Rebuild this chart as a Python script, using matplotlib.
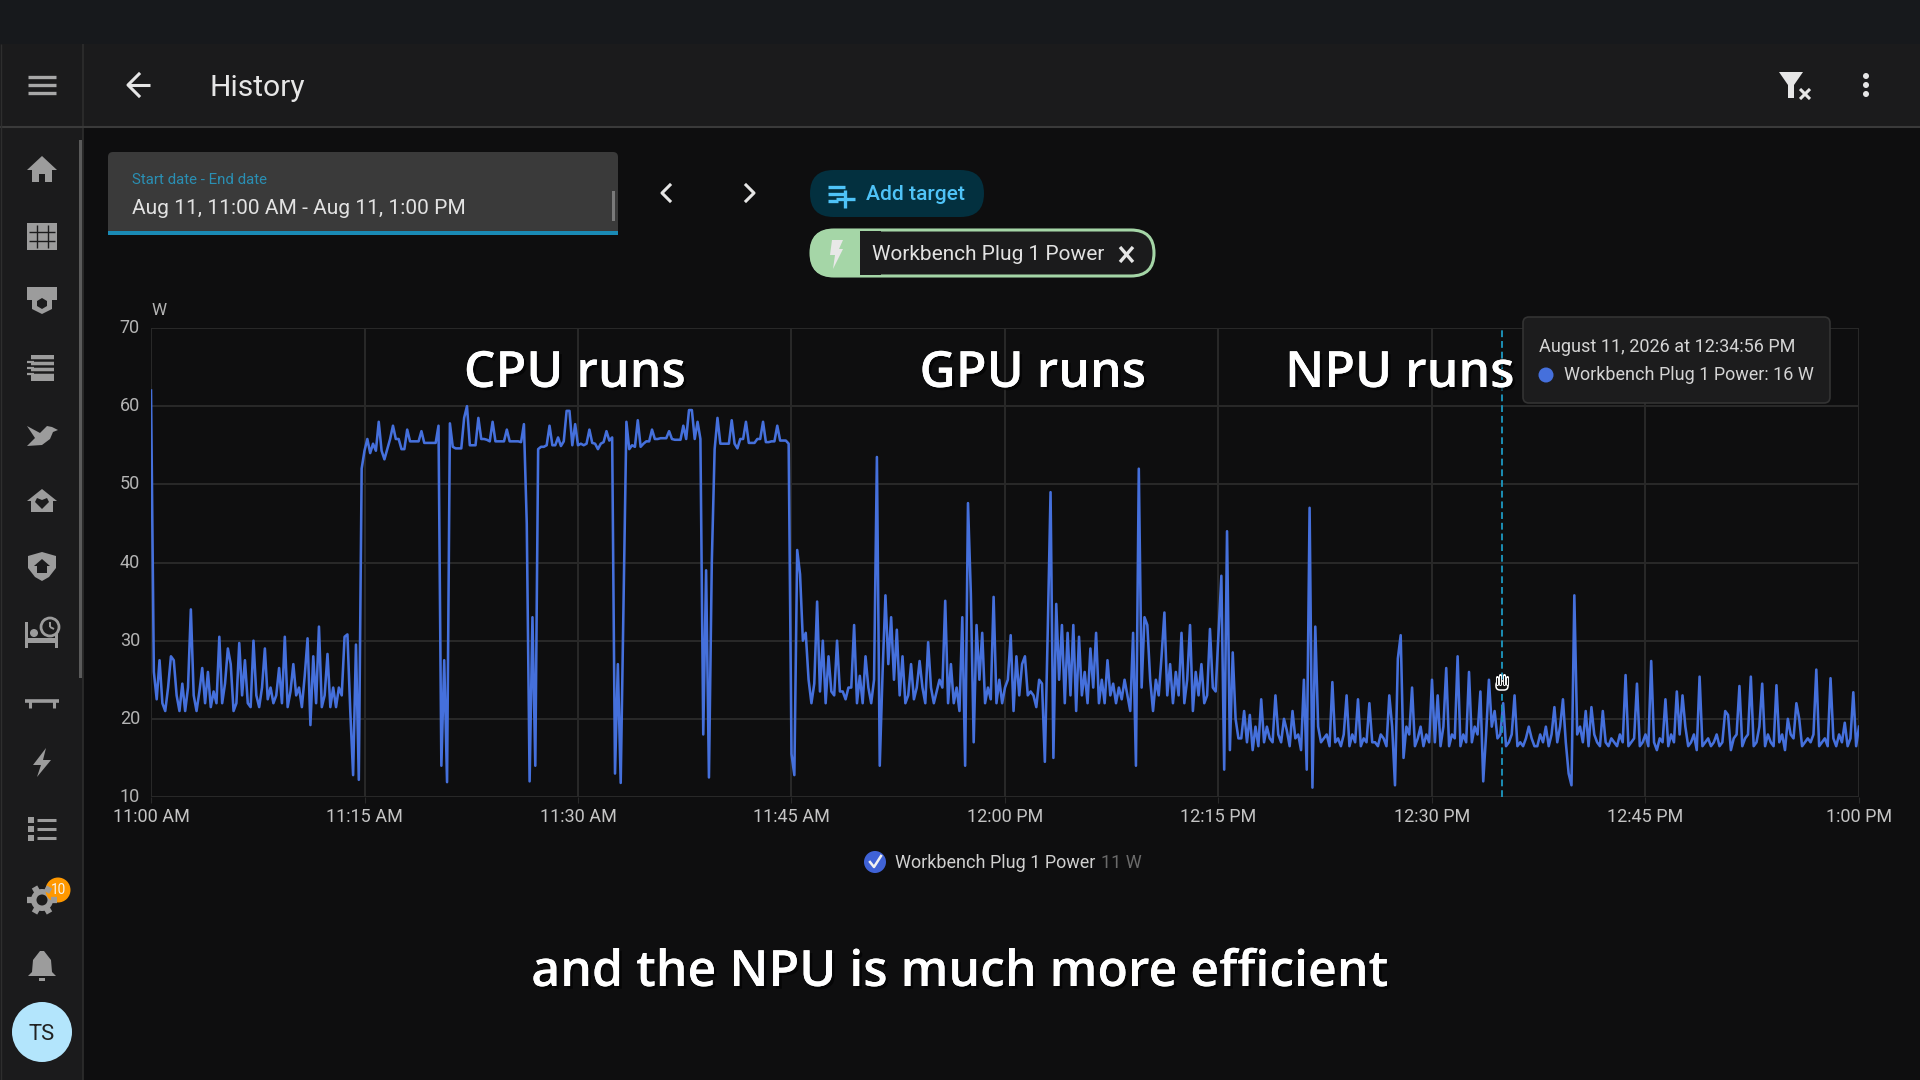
import numpy as np
import matplotlib
matplotlib.use("Agg")
import matplotlib.pyplot as plt
import matplotlib.patheffects as pe
from matplotlib.patches import Rectangle, Circle, Polygon, FancyBboxPatch

plt.rcParams["font.family"] = ["Roboto", "DejaVu Sans"]

# watts, one row = one minute, a reading every 12 seconds
power_idle = [
    62, 26, 22.5, 27.5, 22,
    21, 24, 28, 27.5, 23,
    21, 24.5, 21, 24, 34,
    23, 21, 23.5, 26.5, 22,
    26, 21.5, 23.5, 22, 30.5,
    22, 24.5, 29, 27, 21,
    22, 29.7, 23, 27.5, 22,
    21.5, 30, 23, 21.5, 24,
    29, 22.5, 24, 22, 23,
    26.5, 22, 30.5, 21.5, 23.5,
    27, 23, 24, 21.5, 25.5,
    30.3, 19.2, 28, 22, 31.8,
    21.5, 23, 28.3, 21.5, 24,
    21.5, 24, 23, 30.5, 30.8,
    21, 12.8, 29.5, 12.2, 52,
]
power_cpu = [
    54.3, 55.8, 54, 55.2, 54.3,
    58, 54.3, 53.2, 54.5, 55.8,
    57.5, 55.8, 55.8, 54.5, 54.5,
    57, 55.5, 55.5, 55.5, 55.5,
    56.8, 55.3, 55.3, 55.3, 55.3,
    55.3, 57.5, 14, 27.5, 11.9,
    57.8, 54.8, 54.6, 54.6, 54.6,
    58.5, 60, 55, 55, 55,
    58.5, 55.8, 55.8, 55.7, 55.5,
    58, 55.5, 55.5, 55.5, 55.5,
    57, 55.5, 55.5, 55.5, 55.5,
    55.4, 57.7, 45, 12, 33,
    14, 54.5, 54.8, 54.8, 55,
    57.5, 55, 55, 56, 54.9,
    55.5, 59.4, 59.4, 55, 57.7,
    55, 55.2, 55, 55.2, 57,
    55.3, 55.2, 54.5, 55.2, 55.4,
    56.8, 55.6, 56, 13, 27,
    11.8, 35, 58, 54.5, 55,
    54.8, 58.2, 54.8, 55.2, 55.5,
    55.5, 57, 55.8, 55.8, 55.9,
    55.9, 55.9, 56.8, 55.8, 55.7,
    55.7, 55.7, 57.5, 55.8, 59.5,
    59.5, 55.8, 58, 55.8, 18,
    39, 12.5, 40, 54.5, 58.5,
    55.2, 55.2, 55.2, 55.2, 58.2,
    55.2, 54.6, 55.8, 55.8, 58,
    55.3, 55.3, 55.3, 55.8, 55.8,
    58, 55.4, 55.4, 55.5, 55.5,
    57.5, 55.6, 55.6, 55.6, 55.2,
]
power_gpu = [
    15.5, 12.8, 41.6, 38.5, 30,
    31, 25, 22, 24.5, 35,
    23.5, 30, 22, 28, 23.5,
    23, 30, 23.5, 23.5, 22.5,
    24, 24, 32, 22, 25.5,
    22, 28, 24, 22, 25,
    53.5, 14, 26, 35.8, 27,
    33, 25, 31.4, 23, 28,
    22, 23, 27, 22.5, 24,
    27.4, 24, 22, 29.8, 24,
    22, 23.5, 25, 24, 35.1,
    22, 27, 22, 24, 21,
    33, 14, 47.6, 36, 17,
    32, 25, 31, 22, 24,
    22.5, 35.6, 22, 25, 22,
    24, 25, 30.7, 21, 28,
    23, 27, 28, 23, 23.5,
    23, 21.5, 25, 24.5, 14.5,
    31, 49, 15, 34.7, 25,
    32, 22, 31, 23, 32,
    21, 30.5, 23, 26, 22,
    29, 24, 31, 22, 25,
    22, 27.5, 23, 24.5, 22,
    24, 22.5, 25, 23, 21,
    31, 14, 52, 24, 33,
    32, 25, 21, 25, 23,
    28, 33.6, 23, 27, 22,
    26, 23, 31, 22, 25,
    32, 21, 26, 23, 27,
    22, 23, 31.5, 24, 23.5,
    31, 38.3, 13.5, 44, 16,
]
power_npu = [
    28.5, 20, 17.5, 17.5, 21,
    17, 20.5, 16, 19, 16.5,
    22.5, 17, 19, 17.5, 17,
    23, 18, 17, 20, 18.5,
    16.5, 21, 17.5, 18, 16,
    25, 13.5, 47, 11.2, 31.8,
    19, 17, 17.5, 18, 16.5,
    24.7, 17, 17.5, 16.5, 18,
    23, 16.5, 18, 17, 22.5,
    16.5, 17.5, 17, 22, 17,
    17, 16.5, 18, 17.5, 16.5,
    23, 19, 11.5, 27.7, 30.7,
    15, 19, 18, 24, 16.5,
    17.5, 19, 16.5, 18, 17,
    25, 17, 23, 16.5, 19,
    26.5, 16.5, 18, 17.5, 28,
    16.5, 18, 17, 26, 17,
    19, 18, 23.5, 12, 18,
    25, 19, 21, 17.5, 18,
    22, 16.5, 17, 18, 23,
    16.5, 17, 16.5, 17.5, 19,
    17.5, 16.5, 16.5, 18, 17,
    19, 16.5, 18, 21.5, 17,
    19, 22.5, 17, 13, 11.5,
    35.8, 18, 19, 17, 21,
    16.5, 21.5, 18, 17, 16.5,
    21, 17, 16.5, 17.5, 17,
    16.5, 18, 17, 25.6, 16.5,
    17, 17.5, 24.5, 16.5, 17,
    18, 16.5, 27.4, 17, 16,
    17.5, 17, 22.5, 16.5, 18,
    17, 23.5, 18, 23, 19,
    16.5, 17, 18, 16, 25.4,
    16.5, 17, 17.5, 16.5, 17,
    18, 16.5, 17, 21, 20.5,
    16, 17.5, 18, 24.2, 16.5,
    17.5, 18, 25.4, 16.5, 17,
    19, 24.5, 16.5, 18, 17,
    16.5, 24.3, 17, 18, 16,
    20, 18, 17.5, 22, 20,
    16.5, 17, 17.5, 17, 18,
    26.3, 16.5, 17, 17.5, 16.5,
    25.2, 17.5, 16.5, 18, 17,
    19.5, 16.5, 17.5, 23.4, 16.5,
    19,
]
x_ticks = [0, 15, 30, 45, 60, 75, 90, 105, 120]
x_labels = ["11:00 AM", "11:15 AM", "11:30 AM", "11:45 AM", "12:00 PM",
            "12:15 PM", "12:30 PM", "12:45 PM", "1:00 PM"]
y_ticks = [10, 20, 30, 40, 50, 60, 70]
cursor_minute = 94.93

watts = np.concatenate([power_idle, power_cpu, power_gpu, power_npu])
minutes = np.arange(len(watts)) * 0.2

BG = "#0e0e0f"
BAR = "#1b1b1c"
ICON = "#9c9c9c"
BLUE = "#4570dc"
W, H = 1920, 1080

fig = plt.figure(figsize=(19.2, 10.8), dpi=100, facecolor=BG)


def px_axes(z):
    a = fig.add_axes([0, 0, 1, 1], zorder=z)
    a.set_xlim(0, W)
    a.set_ylim(H, 0)
    a.axis("off")
    return a


ui = px_axes(0)
top = px_axes(3)


def rect(a, x0, y0, x1, y1, c, **kw):
    a.add_patch(Rectangle((x0, y0), x1 - x0, y1 - y0, fc=c, ec="none", **kw))


def poly(cx, cy, pts, c=ICON):
    ui.add_patch(Polygon([(cx + p[0], cy + p[1]) for p in pts], closed=True, fc=c, ec="none"))


def seg(x0, y0, x1, y1, c=ICON, lw=2.2, a=None):
    (a or ui).plot([x0, x1], [y0, y1], color=c, lw=lw, solid_capstyle="butt")


def label(a, x, y, s, px, c, ha="left", **kw):
    a.text(x, y + 1.5, s, fontsize=px * 0.72, color=c, ha=ha, va="center", **kw)


def pill(a, x0, y0, x1, y1, fc, ec="none", lw=0, r=None):
    r = (y1 - y0) / 2 if r is None else r
    a.add_patch(FancyBboxPatch((x0 + r, y0 + r), x1 - x0 - 2 * r, y1 - y0 - 2 * r,
                               boxstyle="round,pad=%f,rounding_size=%f" % (r, r),
                               fc=fc, ec=ec, lw=lw))


# app frame
rect(ui, 0, 0, W, 44, "#17191c")
rect(ui, 0, 44, W, 127, BAR)
rect(ui, 0, 44, 83, H, BAR)
seg(83, 44, 83, H, "#2e2e2e", 1.2)
seg(0, 127, W, 127, "#3a3a3a", 1.5)
seg(1, 44, 1, H, "#2e2e2e", 1)
rect(ui, 78.5, 140, 81.5, 678, "#5a5a5a")

for y in [77, 85, 93]:
    seg(28, y, 56, y, "#a8a8a8", 2.4)
seg(128, 85, 150, 85, "#e6e6e6", 2.2)
ui.plot([139, 128, 139], [74, 85, 96], color="#e6e6e6", lw=2.2)
label(ui, 210, 87, "History", 30, "#e6e6e6")

# top right icons
poly(1779, 72, [(0, 0), (24, 0), (15, 13), (15, 26), (9, 26), (9, 13)], "#e6e6e6")
seg(1800, 89, 1810, 99, "#e6e6e6", 2.2)
seg(1810, 89, 1800, 99, "#e6e6e6", 2.2)
for y in [76, 85, 94]:
    ui.add_patch(Circle((1866, y), 3, fc="#e6e6e6", ec="none"))

# sidebar icons
poly(42, 169, [(-15, 1), (0, -13), (15, 1), (10, 1), (10, 13), (3, 13), (3, 5), (-3, 5), (-3, 13), (-10, 13), (-10, 1)])
rect(ui, 27, 223, 57, 250, ICON)
for x in [36.5, 47.5]:
    seg(x, 225, x, 248, BAR, 1.0)
for y in [231.5, 240.5]:
    seg(29, y, 55, y, BAR, 1.0)
rect(ui, 27, 287, 57, 300, ICON)
poly(42, 301, [(-10, -2), (0, -7), (10, -2), (10, 8), (0, 13), (-10, 8)])
poly(42, 301, [(-5, 0), (0, -3), (5, 0), (5, 5), (0, 8), (-5, 5)], BAR)
rect(ui, 31, 355, 54, 381, ICON)
for y in [360, 366, 372]:
    seg(27, y, 58, y, BAR, 1.8)
    seg(27, y + 2, 34, y + 2, ICON, 1.6)
poly(42, 434, [(-15, 12), (-7, 4), (-15, -8), (-2, -1), (5, -8), (10, -7), (16, -4), (11, -2), (8, 5), (0, 11)])
poly(42, 500, [(-15, 1), (0, -11), (15, 1), (11, 1), (11, 12), (-11, 12), (-11, 1)])
poly(42, 500, [(0, 9), (-7, 2), (-5, -2), (0, 0), (5, -2), (7, 2)], BAR)
poly(42, 566, [(-14, -10), (0, -14), (14, -10), (14, 2), (7, 11), (0, 15), (-7, 11), (-14, 2)])
poly(42, 566, [(-8, 0), (0, -7), (8, 0), (5, 0), (5, 7), (-5, 7), (-5, 0)], BAR)
rect(ui, 25, 622, 28, 648, ICON)
rect(ui, 55, 630, 58, 648, ICON)
rect(ui, 28, 638, 55, 643, ICON)
ui.add_patch(Circle((34, 633), 4, fc=ICON, ec="none"))
ui.add_patch(Circle((50, 627), 9, fc=BAR, ec=ICON, lw=2))
seg(50, 627, 50, 622, ICON, 1.4)
seg(50, 627, 54, 629, ICON, 1.4)
seg(25, 701, 59, 701, ICON, 2.6)
seg(30, 701, 30, 708, ICON, 2.2)
seg(54, 701, 54, 708, ICON, 2.2)
poly(42, 763, [(4, -15), (-9, 2), (-1, 2), (-5, 14), (9, -3), (1, -3)])
for y in [820, 829, 838]:
    seg(37, y, 56, y, ICON, 2.2)
    rect(ui, 28, y - 3, 34, y + 3, ICON)
ui.add_patch(Circle((42, 900), 11, fc=ICON, ec="none"))
ui.add_patch(Circle((42, 900), 5.5, fc=BAR, ec="none"))
for ang in np.deg2rad([0, 60, 120, 180, 240, 300]):
    seg(42 + 9 * np.cos(ang), 900 + 9 * np.sin(ang), 42 + 15 * np.cos(ang), 900 + 15 * np.sin(ang), ICON, 4.5)
ui.add_patch(Circle((58, 890), 12.5, fc="#ff9800", ec="none"))
label(ui, 58, 889, "10", 13.5, "#f5f5f5", ha="center")
poly(42, 966, [(-2, -15), (2, -15), (9, -6), (10, 6), (14, 10), (-14, 10), (-10, 6), (-9, -6)])
rect(ui, 39, 978, 45, 981, ICON)
ui.add_patch(Circle((42, 1032), 30, fc="#b3e5fc", ec="none"))
label(ui, 42, 1033, "TS", 22, "#222222", ha="center")

# date field
pill(ui, 108, 152, 618, 200, "#3a3a3a", r=5)
rect(ui, 108, 158, 618, 232, "#3a3a3a")
rect(ui, 108, 231, 618, 235, "#1a8ab5")
rect(ui, 612, 191, 615, 221, "#7a7a7a")
label(ui, 132, 178, "Start date - End date", 15, "#2a8fb3")
label(ui, 132, 207, "Aug 11, 11:00 AM - Aug 11, 1:00 PM", 21, "#e2e2e2")
ui.plot([670, 662, 670], [185, 193, 201], color="#e6e6e6", lw=2.2)
ui.plot([746, 754, 746], [185, 193, 201], color="#e6e6e6", lw=2.2)

# add target and chip
pill(ui, 810, 170, 984, 217, "#03303f")
for y, x1 in [(187, 845), (194, 845), (201, 838)]:
    seg(828, y, x1, y, "#4fc3f7", 2.4)
seg(845, 190, 845, 208, "#4fc3f7", 2.4)
seg(836, 199, 855, 199, "#4fc3f7", 2.4)
label(ui, 866, 193, "Add target", 21, "#4fc3f7", fontweight="medium")
pill(ui, 811, 230, 1154, 276, BAR, ec="#a5d6a7", lw=2.2)
pill(ui, 810, 229, 880, 277, "#a5d6a7")
rect(ui, 860, 231, 881, 275, BAR)
rect(ui, 856, 230, 860, 276, "#a5d6a7")
poly(836, 254, [(-4, -14), (7, -14), (3, -5), (7, -5), (-3, 15), (-1, 1), (-6, 1)], "#e8e8e8")
label(ui, 872, 253, "Workbench Plug 1 Power", 20.9, "#e2e2e2")
seg(1120, 247, 1133, 262, "#e6e6e6", 2.4)
seg(1133, 247, 1120, 262, "#e6e6e6", 2.4)

# chart
ax = fig.add_axes([151 / W, 1 - 797 / H, (1859 - 151) / W, (797 - 328) / H], zorder=1)
ax.patch.set_alpha(0)
ax.plot(minutes, watts, color=BLUE, lw=1.85, solid_joinstyle="round", zorder=3)
ax.axvline(cursor_minute, color="#1c8fb5", lw=1.4, ls=(0, (3.5, 2)), zorder=4)
ax.set_xlim(0, 120)
ax.set_ylim(10, 70)
ax.set_xticks(x_ticks)
ax.set_xticklabels(x_labels, fontsize=13, color="#c4c4c4")
ax.set_yticks(y_ticks)
ax.set_yticklabels(y_ticks, fontsize=13, color="#b4b4b4", va="center")
ax.grid(True, color="#292929", lw=1.4, zorder=1)
ax.tick_params(axis="x", length=4, color="#292929", pad=4)
ax.tick_params(axis="y", length=0, pad=8)
for s in ax.spines.values():
    s.set_visible(False)
label(ui, 152, 309, "W", 17, "#b4b4b4")

# legend
ui.add_patch(Circle((875, 862), 11, fc="#3f62d6", ec="none"))
ui.plot([870, 874, 881], [862, 867, 856], color="#f0f0f0", lw=1.8)
label(ui, 895, 862, "Workbench Plug 1 Power", 18, "#d0d0d0")
label(ui, 1101, 862, "11 W", 18, "#6a6a6a")

# tooltip
pill(top, 1523, 317, 1830, 403, "#1c1c1d", ec="#333333", lw=1.2, r=6)
label(top, 1539, 346, "August 11, 2026 at 12:34:56 PM", 18, "#d4d4d4")
top.add_patch(Circle((1546, 375), 7.5, fc=BLUE, ec="none"))
label(top, 1564, 373.5, "Workbench Plug 1 Power: 16 W", 18, "#d4d4d4")

# hand cursor
top.add_patch(FancyBboxPatch((1497, 682), 10, 7, boxstyle="round,pad=1,rounding_size=4", fc="#111111", ec="white", lw=1.1))
for x, y0 in [(1497, 677), (1500.3, 675), (1503.6, 675), (1507, 677)]:
    top.plot([x, x], [y0, 684], color="white", lw=2.2, solid_capstyle="round")
    top.plot([x, x], [y0 + 0.5, 684], color="#111111", lw=0.8, solid_capstyle="round")

# captions burned into the video
shadow = [pe.withSimplePatchShadow(offset=(2, -2), shadow_rgbFace="black", alpha=0.6), pe.Normal()]
for x, y, s in [(575, 374, "CPU runs"), (1033, 374, "GPU runs"), (1400, 374, "NPU runs"),
                (960, 973, "and the NPU is much more efficient")]:
    top.text(x, y, s, fontsize=36, color="white", ha="center", va="center",
             family=["Open Sans", "DejaVu Sans"], fontweight="semibold", path_effects=shadow)

fig.savefig("out.png", dpi=100, facecolor=BG)
